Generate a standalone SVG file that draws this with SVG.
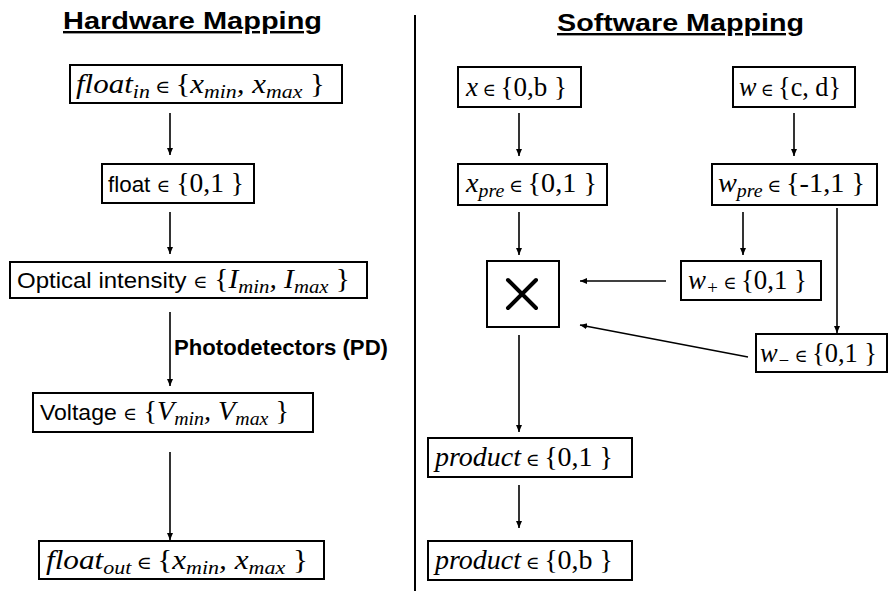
<svg xmlns="http://www.w3.org/2000/svg" width="888" height="591" viewBox="0 0 888 591">
<style>
.box{fill:#fff;stroke:#000;stroke-width:2}
.ln{stroke:#000;stroke-width:1.6;fill:none;marker-end:url(#ah)}
.t{font-family:"Liberation Serif","DejaVu Serif",serif;font-size:27px;fill:#000}
.i{font-style:italic}
.s{font-size:19px;font-style:italic}
.e{font-size:18px}
.c{font-family:"Liberation Sans",Arial,sans-serif;font-size:22px;fill:#000}
.h{font-family:"Liberation Sans",Arial,sans-serif;font-size:24px;font-weight:bold;fill:#000;text-decoration:underline}
.b{font-family:"Liberation Sans",Arial,sans-serif;font-size:22px;font-weight:bold;fill:#000}
</style>
<defs>
<marker id="ah" markerWidth="8" markerHeight="8" refX="7" refY="4" orient="auto" markerUnits="userSpaceOnUse">
<path d="M0,1 L7,4 L0,7 Z" fill="#000"/>
</marker>
</defs>
<rect width="888" height="591" fill="#fff"/>
<g id="titles">
<text class="h" x="63" y="29" textLength="259" lengthAdjust="spacingAndGlyphs">Hardware Mapping</text>
<text class="h" x="557" y="31" textLength="247" lengthAdjust="spacingAndGlyphs">Software Mapping</text>
<line x1="415" y1="15" x2="415" y2="591" stroke="#000" stroke-width="2"/>
</g>
<g id="connectors">
<line class="ln" x1="170" y1="113" x2="170" y2="155"/>
<line class="ln" x1="170" y1="212" x2="170" y2="254"/>
<line class="ln" x1="170" y1="312" x2="170" y2="386"/>
<line class="ln" x1="170" y1="452" x2="170" y2="540"/>
<text class="b" x="174" y="355" textLength="214" lengthAdjust="spacingAndGlyphs">Photodetectors (PD)</text>
<line class="ln" x1="519" y1="113" x2="519" y2="156"/>
<line class="ln" x1="794" y1="113" x2="794" y2="156"/>
<line class="ln" x1="519" y1="212" x2="519" y2="255"/>
<line class="ln" x1="743" y1="212" x2="743" y2="255"/>
<line class="ln" x1="837" y1="208" x2="837" y2="333"/>
<line class="ln" x1="666" y1="281" x2="580" y2="281"/>
<line class="ln" x1="748" y1="357" x2="580" y2="325"/>
<line class="ln" x1="519" y1="335" x2="519" y2="432"/>
<line class="ln" x1="519" y1="485" x2="519" y2="528"/>
</g>
<g id="float_in">
<rect class="box" x="70" y="65" width="272" height="38"/>
<text class="t i" x="76" y="93" textLength="249" lengthAdjust="spacingAndGlyphs">float<tspan class="s" dy="5">in</tspan><tspan class="e" dy="-5" font-style="normal"> ∈ </tspan><tspan font-style="normal">{</tspan>x<tspan class="s" dy="5">min</tspan><tspan dy="-5">, x</tspan><tspan class="s" dy="5">max</tspan><tspan dy="-5" font-style="normal"> }</tspan></text>
</g>
<g id="float01">
<rect class="box" x="102" y="164" width="152" height="39"/>
<text class="c" x="108" y="192" textLength="136" lengthAdjust="spacingAndGlyphs">float <tspan class="t e">∈</tspan> <tspan class="t">{0,1 }</tspan></text>
</g>
<g id="optical">
<rect class="box" x="10" y="262" width="357" height="36"/>
<text class="c" x="17" y="288" textLength="333" lengthAdjust="spacingAndGlyphs">Optical intensity  <tspan class="t e">∈</tspan> <tspan class="t">{</tspan><tspan class="t i">I</tspan><tspan class="t s" dy="5">min</tspan><tspan class="t i" dy="-5">, I</tspan><tspan class="t s" dy="5">max</tspan><tspan class="t" dy="-5"> }</tspan></text>
</g>
<g id="voltage">
<rect class="box" x="33" y="393" width="280" height="39"/>
<text class="c" x="40" y="420" textLength="249" lengthAdjust="spacingAndGlyphs">Voltage  <tspan class="t e">∈</tspan> <tspan class="t">{</tspan><tspan class="t i">V</tspan><tspan class="t s" dy="5">min</tspan><tspan class="t i" dy="-5">, V</tspan><tspan class="t s" dy="5">max</tspan><tspan class="t" dy="-5"> }</tspan></text>
</g>
<g id="float_out">
<rect class="box" x="39" y="541" width="285" height="38"/>
<text class="t i" x="46" y="569" textLength="262" lengthAdjust="spacingAndGlyphs">float<tspan class="s" dy="5">out</tspan><tspan class="e" dy="-5" font-style="normal"> ∈ </tspan><tspan font-style="normal">{</tspan>x<tspan class="s" dy="5">min</tspan><tspan dy="-5">, x</tspan><tspan class="s" dy="5">max</tspan><tspan dy="-5" font-style="normal"> }</tspan></text>
</g>
<g id="x_in">
<rect class="box" x="458" y="67" width="123" height="40"/>
<text class="t" x="466" y="96" textLength="101" lengthAdjust="spacingAndGlyphs"><tspan class="i">x</tspan><tspan class="e"> ∈ </tspan>{0,b }</text>
</g>
<g id="w_in">
<rect class="box" x="733" y="67" width="122" height="40"/>
<text class="t" x="739" y="96" textLength="102" lengthAdjust="spacingAndGlyphs"><tspan class="i">w</tspan><tspan class="e"> ∈ </tspan>{c, d}</text>
</g>
<g id="x_pre">
<rect class="box" x="458" y="164" width="149" height="41"/>
<text class="t" x="466" y="192" textLength="131" lengthAdjust="spacingAndGlyphs"><tspan class="i">x</tspan><tspan class="s" dy="5">pre</tspan><tspan class="e" dy="-5"> ∈ </tspan>{0,1 }</text>
</g>
<g id="w_pre">
<rect class="box" x="712" y="164" width="165" height="41"/>
<text class="t" x="718" y="192" textLength="147" lengthAdjust="spacingAndGlyphs"><tspan class="i">w</tspan><tspan class="s" dy="5">pre</tspan><tspan class="e" dy="-5"> ∈ </tspan>{-1,1 }</text>
</g>
<g id="mult">
<rect class="box" x="487" y="261" width="72" height="66"/>
<path d="M508,280 L536,308 M536,280 L508,308" stroke="#000" stroke-width="4" stroke-linecap="round"/>
</g>
<g id="w_plus">
<rect class="box" x="681" y="261" width="140" height="39"/>
<text class="t" x="688" y="289" textLength="119" lengthAdjust="spacingAndGlyphs"><tspan class="i">w</tspan><tspan class="s" dy="5">+</tspan><tspan class="e" dy="-5"> ∈ </tspan>{0,1 }</text>
</g>
<g id="w_minus">
<rect class="box" x="756" y="334" width="131" height="38"/>
<text class="t" x="760" y="362" textLength="117" lengthAdjust="spacingAndGlyphs"><tspan class="i">w</tspan><tspan class="s" dy="5">−</tspan><tspan class="e" dy="-5"> ∈ </tspan>{0,1 }</text>
</g>
<g id="product1">
<rect class="box" x="428" y="438" width="204" height="39"/>
<text class="t" x="435" y="466" textLength="178" lengthAdjust="spacingAndGlyphs"><tspan class="i">product</tspan><tspan class="e"> ∈ </tspan>{0,1 }</text>
</g>
<g id="product2">
<rect class="box" x="428" y="541" width="204" height="39"/>
<text class="t" x="435" y="569" textLength="178" lengthAdjust="spacingAndGlyphs"><tspan class="i">product</tspan><tspan class="e"> ∈ </tspan>{0,b }</text>
</g>
</svg>
